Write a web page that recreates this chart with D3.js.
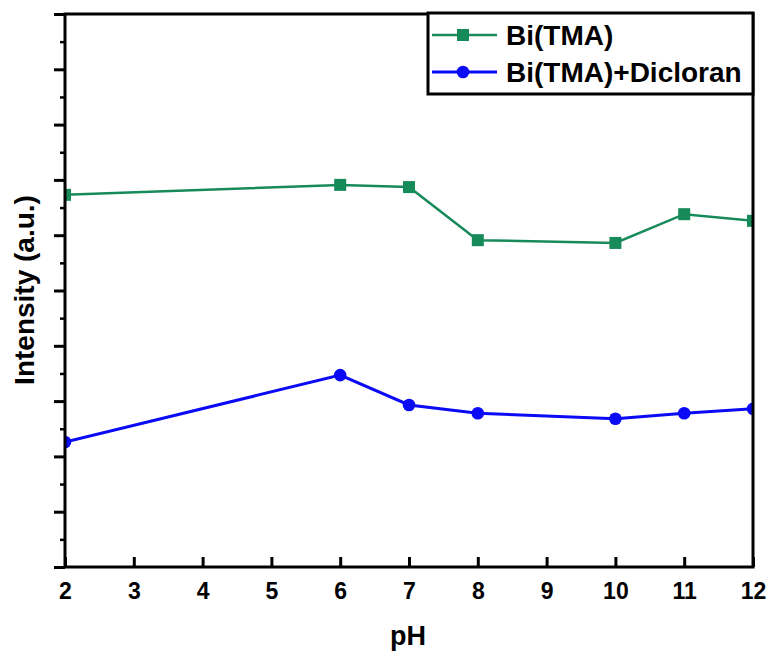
<!DOCTYPE html>
<html>
<head>
<meta charset="utf-8">
<script src="https://cdn.jsdelivr.net/npm/d3@7"></script>
<style>
  body { margin: 0; padding: 0; background: #fff; }
  text { font-family: 'Liberation Sans', Arial, sans-serif; font-weight: bold; }
</style>
</head>
<body>
<div id="main"></div>
<script>
const phValues = [2, 6, 7, 8, 10, 11, 12];
const bitmaValues = [6.73, 6.91, 6.87, 5.91, 5.86, 6.38, 6.26];
const dicloranValues = [2.26, 3.47, 2.93, 2.78, 2.68, 2.78, 2.86];
const xTicks = [2, 3, 4, 5, 6, 7, 8, 9, 10, 11, 12];
const seriesNames = ['Bi(TMA)', 'Bi(TMA)+Dicloran'];

const WIDTH = 770, HEIGHT = 652;
const margin = { top: 14, right: 17, bottom: 85, left: 65 };
const innerW = WIDTH - margin.left - margin.right;
const innerH = HEIGHT - margin.top - margin.bottom;
const GREEN = '#178a5a', BLUE = '#0a0af5';

const svg = d3.select('#main').append('svg')
    .attr('width', WIDTH)
    .attr('height', HEIGHT);

const g = svg.append('g').attr('transform', `translate(${margin.left},${margin.top})`);

const x = d3.scaleLinear().domain([2, 12]).range([0, innerW]);
const y = d3.scaleLinear().domain([0, 10]).range([innerH, 0]);

svg.append('defs').append('clipPath').attr('id', 'clip')
    .append('rect').attr('width', innerW).attr('height', innerH);

// series
const plot = g.append('g').attr('clip-path', 'url(#clip)');
const line = d3.line().x((d) => x(d[0])).y((d) => y(d[1]));
const greenData = phValues.map((p, i) => [p, bitmaValues[i]]);
const blueData = phValues.map((p, i) => [p, dicloranValues[i]]);

plot.append('path').datum(greenData)
    .attr('d', line).attr('fill', 'none').attr('stroke', GREEN).attr('stroke-width', 2.5);
plot.selectAll('rect.sq').data(greenData).enter().append('rect')
    .attr('class', 'sq')
    .attr('x', (d) => x(d[0]) - 6).attr('y', (d) => y(d[1]) - 6)
    .attr('width', 12).attr('height', 12).attr('fill', GREEN);

plot.append('path').datum(blueData)
    .attr('d', line).attr('fill', 'none').attr('stroke', BLUE).attr('stroke-width', 3);
plot.selectAll('circle').data(blueData).enter().append('circle')
    .attr('cx', (d) => x(d[0])).attr('cy', (d) => y(d[1]))
    .attr('r', 6.3).attr('fill', BLUE);

// axes
const axisX = d3.axisBottom(x).tickValues(xTicks).tickSizeInner(-10).tickSizeOuter(0).tickPadding(16);
const gx = g.append('g').attr('transform', `translate(0,${innerH})`).call(axisX);
gx.select('.domain').remove();
gx.selectAll('line').attr('stroke', '#000').attr('stroke-width', 3);
gx.selectAll('text').attr('font-size', 23).attr('fill', '#000')
    .attr('font-family', "'Liberation Sans', Arial, sans-serif").attr('font-weight', 'bold');

const axisYMinor = d3.axisLeft(y).tickValues(d3.range(0.5, 10, 1)).tickSize(5).tickFormat('');
const gym = g.append('g').call(axisYMinor);
gym.select('.domain').remove();
gym.selectAll('line').attr('stroke', '#000').attr('stroke-width', 2.5);

const axisY = d3.axisLeft(y).ticks(10).tickSize(11).tickFormat('');
const gy = g.append('g').call(axisY);
gy.select('.domain').remove();
gy.selectAll('line').attr('stroke', '#000').attr('stroke-width', 3);

// frame
g.append('rect')
    .attr('width', innerW).attr('height', innerH)
    .attr('fill', 'none').attr('stroke', '#000').attr('stroke-width', 3);

// axis titles
svg.append('text')
    .attr('x', margin.left + innerW / 2 - 1).attr('y', 645)
    .attr('text-anchor', 'middle').attr('font-size', 27).text('pH');
svg.append('text')
    .attr('transform', `translate(34,290) rotate(-90)`)
    .attr('text-anchor', 'middle').attr('font-size', 28).text('Intensity (a.u.)');

// legend
const legend = svg.append('g');
legend.append('rect')
    .attr('x', 428).attr('y', 13).attr('width', 325).attr('height', 81)
    .attr('fill', '#fff').attr('stroke', '#000').attr('stroke-width', 3);
const rows = [
    { name: seriesNames[0], color: GREEN, shape: 'square', y: 35 },
    { name: seriesNames[1], color: BLUE, shape: 'circle', y: 72 }
];
rows.forEach((r) => {
    legend.append('line')
        .attr('x1', 432).attr('x2', 497).attr('y1', r.y).attr('y2', r.y)
        .attr('stroke', r.color).attr('stroke-width', r.shape === 'circle' ? 3 : 2.5);
    if (r.shape === 'square') {
        legend.append('rect').attr('x', 457).attr('y', r.y - 6).attr('width', 12).attr('height', 12).attr('fill', r.color);
    } else {
        legend.append('circle').attr('cx', 463).attr('cy', r.y).attr('r', 6.3).attr('fill', r.color);
    }
    legend.append('text')
        .attr('x', 506).attr('y', r.y + 10)
        .attr('font-size', 28).attr('fill', '#000').text(r.name);
});
</script>
</body>
</html>
